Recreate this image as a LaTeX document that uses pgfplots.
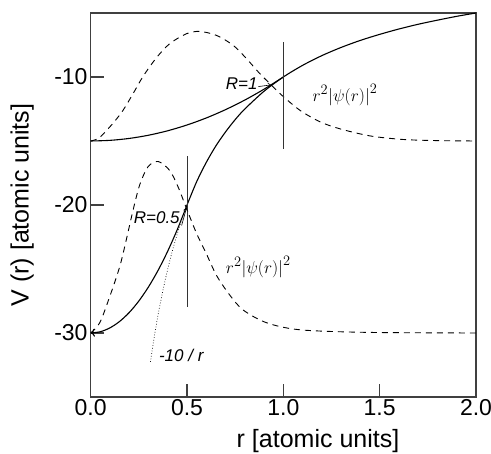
\documentclass[border=0pt]{standalone}
\usepackage{pgfplots}
\pgfplotsset{compat=1.18}
\usepackage{fontspec}
\setmainfont{Liberation Sans}
\usetikzlibrary{arrows.meta}
\begin{document}
\begin{tikzpicture}
\useasboundingbox (-90.7pt,-57pt) rectangle (400.3pt,397pt);
\begin{axis}[
  at={(0,0)}, anchor=south west,
  width=385.3pt, height=384pt, scale only axis,
  xmin=0, xmax=2, ymin=-35, ymax=-5,
  xtick={0,0.5,1,1.5,2}, xticklabels={0.0,0.5,1.0,1.5,2.0},
  ytick={-30,-20,-10}, yticklabels={-30,-20,-10},
  tick align=inside, xtick pos=left, ytick pos=left,
  major tick length=13pt,
  axis line style={draw=black!75, line width=1.2pt},
  every tick/.style={draw=black!75, line width=1.2pt},
  tick label style={font=\fontsize{23}{23}\selectfont},
  xticklabel style={inner sep=2pt},
  yticklabel style={inner sep=3pt},
  label style={font=\fontsize{25}{27}\selectfont},
  xlabel={r [atomic units]},
  ylabel={V (r) [atomic units]},
  xlabel style={at={(axis description cs:0.59,0)}, anchor=center, yshift=-44pt},
  ylabel style={at={(axis description cs:-0.178,0.5)}, anchor=center},
  clip=false,
]
% R=1 inner potential
\addplot[black, line width=1.1pt, smooth] coordinates {
(0,-15) (0.1,-14.95) (0.2,-14.8) (0.3,-14.55) (0.4,-14.2) (0.5,-13.75)
(0.6,-13.2) (0.7,-12.55) (0.8,-11.8) (0.9,-10.95) (1.0,-10)};
% R=0.5 inner potential
\addplot[black, line width=1.1pt, smooth, -{To[length=4pt,width=8pt]}] coordinates {
(0.5,-20) (0.45,-21.9) (0.4,-23.6) (0.35,-25.1) (0.3,-26.4) (0.25,-27.5)
(0.2,-28.4) (0.15,-29.1) (0.1,-29.6) (0.05,-29.9) (0,-30)};
% -10/r outside
\addplot[black, line width=1.1pt, smooth] coordinates {
(0.5,-20) (0.55,-18.18) (0.6,-16.67) (0.65,-15.38) (0.7,-14.29) (0.75,-13.33)
(0.8,-12.5) (0.9,-11.11) (1.0,-10) (1.1,-9.09) (1.2,-8.33) (1.3,-7.69)
(1.4,-7.14) (1.5,-6.67) (1.6,-6.25) (1.7,-5.88) (1.8,-5.56) (1.9,-5.26) (2.0,-5)};
% -10/r dotted continuation
\addplot[black, line width=0.7pt, dotted, smooth] coordinates {
(0.31,-32.26) (0.33,-30.30) (0.35,-28.57) (0.375,-26.67) (0.4,-25)
(0.425,-23.53) (0.45,-22.22) (0.475,-21.05) (0.5,-20)};
% density R=1
\addplot[black, line width=0.9pt, dash pattern=on 6pt off 5pt, smooth] coordinates {
(0,-15) (0.04,-14.8) (0.081,-14.2) (0.125,-13.45) (0.168,-12.6) (0.22,-11.3) (0.272,-9.95)
(0.341,-8.5) (0.41,-7.4) (0.497,-6.62) (0.566,-6.44) (0.653,-6.75)
(0.74,-7.53) (0.809,-8.57) (0.878,-9.74) (0.939,-10.65) (0.99,-11.4)
(1.086,-12.6) (1.19,-13.5) (1.294,-14.05) (1.449,-14.6) (1.62,-14.88)
(1.8,-14.97) (2.0,-15)};
% density R=0.5
\addplot[black, line width=0.9pt, dash pattern=on 6pt off 5pt, smooth] coordinates {
(0,-30) (0.047,-29.2) (0.099,-27.15) (0.151,-24.8) (0.185,-22.7) (0.22,-20.4)
(0.255,-18.4) (0.298,-17.0) (0.35,-16.6) (0.41,-17.3) (0.454,-18.6)
(0.497,-20.26) (0.549,-22.2) (0.6,-23.8) (0.653,-25.5) (0.72,-27.0)
(0.791,-28.2) (0.913,-29.2) (1.086,-29.75) (1.43,-29.95) (2.0,-30)};
% vertical markers
\addplot[black!80, line width=0.7pt] coordinates {(1,-7.3) (1,-15.6)};
\addplot[black!80, line width=0.7pt] coordinates {(0.5,-16.2) (0.5,-28.0)};
% annotations
\node[font=\fontsize{17}{17}\selectfont\itshape] at (axis cs:0.784,-10.5) {R=1};
\draw[-{To[length=3pt,width=5pt]}, line width=0.6pt] (axis cs:0.87,-10.75) -- (axis cs:0.935,-10.62);
\node[font=\fontsize{17}{17}\selectfont\itshape] at (axis cs:0.343,-21.0) {R=0.5};
\draw[-{To[length=3pt,width=5pt]}, line width=0.6pt] (axis cs:0.472,-21.6) -- (axis cs:0.497,-20.25);
\node[font=\fontsize{17}{17}\selectfont\itshape] at (axis cs:0.47,-31.75) {-10 / r};
\node[font=\fontsize{19}{19}\selectfont] at (axis cs:1.32,-11.4) {$r^2\bigl|\psi(r)\bigr|^2$};
\node[font=\fontsize{19}{19}\selectfont] at (axis cs:0.87,-24.85) {$r^2\bigl|\psi(r)\bigr|^2$};
\end{axis}
\end{tikzpicture}
\end{document}
